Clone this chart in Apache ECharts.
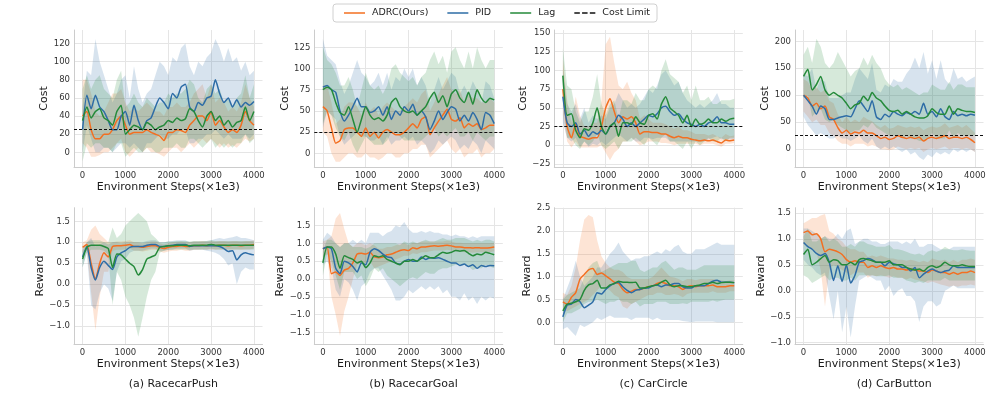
<!DOCTYPE html>
<html>
<head>
<meta charset="utf-8">
<script src="https://cdn.jsdelivr.net/npm/echarts@6/dist/echarts.min.js"></script>
<style>
  html, body { margin: 0; padding: 0; background: #fff; }
  #chart { width: 996px; height: 399px; }
</style>
</head>
<body>
<div id="chart"></div>
<script>
// x positions (environment steps) shared by every curve
const steps = [0,100,200,300,400,500,600,700,800,900,1000,1100,1200,1300,1400,1500,1600,1700,1800,1900,2000,
  2100,2200,2300,2400,2500,2600,2700,2800,2900,3000,3100,3200,3300,3400,3500,3600,3700,3800,3900,4000];
const xTicks = [0, 1000, 2000, 3000, 4000];
const costLimit = 25;
const methods = ['ADRC(Ours)', 'PID', 'Lag'];
const envNames = ['(a) RacecarPush', '(b) RacecarGoal', '(c) CarCircle', '(d) CarButton'];
const costTicks = [[0,20,40,60,80,100,120], [0,25,50,75,100,125], [-25,0,25,50,75,100,125,150], [0,50,100,150,200]];
const rewardTicks = [[-1,-0.5,0,0.5,1,1.5], [-1.5,-1,-0.5,0,0.5,1,1.5], [0,0.5,1,1.5,2,2.5], [-1,-0.5,0,0.5,1,1.5]];

// (a) RacecarPush - cost
const costA_adrc   = [40,45,25,15,15,20,20,25,35,40,30,20,22,22,22,25,22,20,18,13,22,22,25,24,22,30,35,40,40,35,45,30,35,28,22,25,22,30,45,35,30];
const costA_adrcLo = [10,5,-5,-5,-3,0,0,5,10,15,0,-5,0,5,0,5,0,0,-2,-5,0,5,5,0,5,10,5,10,15,10,15,10,5,10,5,8,5,10,15,12,15];
const costA_adrcHi = [80,80,65,45,40,45,55,65,65,70,55,45,50,45,50,55,50,45,45,40,50,50,55,50,50,55,65,70,75,60,75,55,60,55,45,50,45,55,75,60,50];
const costA_pid    = [25,63,48,63,50,45,35,25,25,40,45,30,52,35,25,35,38,50,60,55,48,65,60,72,75,50,45,55,52,60,62,80,65,55,60,50,58,50,55,52,56];
const costA_pidLo  = [0,30,15,0,0,5,5,0,5,10,10,5,10,5,0,10,10,15,20,15,15,20,20,25,25,10,10,15,15,20,20,25,20,15,20,15,15,15,20,15,20];
const costA_pidHi  = [50,90,85,125,100,85,70,55,65,80,85,60,95,70,55,65,70,85,100,95,85,105,100,115,120,95,85,100,95,105,110,125,115,100,115,100,105,90,100,85,90];
const costA_lag    = [35,50,38,45,48,38,35,30,45,52,20,25,30,28,25,33,30,25,28,30,35,33,38,35,37,48,45,35,28,40,45,35,40,30,35,28,33,35,50,35,45];
const costA_lagLo  = [-10,10,5,10,10,5,5,0,10,10,-5,0,5,0,0,5,5,0,0,5,5,5,10,5,5,15,15,10,5,10,15,5,10,5,10,5,10,10,20,10,15];
const costA_lagHi  = [70,85,70,80,85,70,65,60,80,90,50,55,65,55,50,60,55,50,55,55,65,60,65,65,70,80,75,60,55,70,75,65,70,55,60,50,60,65,85,60,75];

// (a) RacecarPush - reward
const rewA_adrc   = [0.88,0.95,0.5,0.12,0.5,0.75,0.65,0.9,0.92,0.92,0.93,0.95,0.9,0.9,0.88,0.9,0.92,0.92,0.88,0.85,0.88,0.9,0.9,0.92,0.9,0.9,0.92,0.92,0.93,0.92,0.93,0.92,0.93,0.93,0.92,0.93,0.93,0.92,0.93,0.93,0.95];
const rewA_adrcLo = [0.75,0.8,-0.2,-1.1,-0.3,0.3,0.3,0.8,0.82,0.82,0.83,0.85,0.8,0.8,0.78,0.8,0.82,0.82,0.78,0.75,0.78,0.8,0.8,0.82,0.8,0.8,0.82,0.82,0.83,0.82,0.83,0.82,0.83,0.83,0.82,0.83,0.83,0.82,0.83,0.83,0.85];
const rewA_adrcHi = [1.0,1.05,1.3,1.4,1.2,1.1,1.0,1.0,1.02,1.02,1.03,1.05,1.0,1.0,0.98,1.0,1.02,1.02,0.98,0.95,0.98,1.0,1.0,1.02,1.0,1.0,1.02,1.02,1.03,1.02,1.03,1.02,1.03,1.03,1.02,1.03,1.03,1.02,1.03,1.03,1.05];
const rewA_pid    = [0.65,0.9,0.4,0.1,0.4,0.55,0.45,0.35,0.65,0.75,0.8,0.88,0.9,0.9,0.9,0.93,0.95,0.95,0.9,0.9,0.92,0.93,0.95,0.95,0.95,0.9,0.92,0.92,0.92,0.92,0.92,0.92,0.9,0.85,0.78,0.8,0.58,0.7,0.75,0.72,0.7];
const rewA_pidLo  = [0.4,0.75,-0.5,-0.6,-0.2,0.0,-0.1,-0.4,0.3,0.55,0.6,0.75,0.8,0.8,0.8,0.83,0.85,0.85,0.8,0.8,0.82,0.83,0.85,0.85,0.85,0.8,0.82,0.82,0.82,0.8,0.78,0.75,0.7,0.6,0.45,0.5,0.0,0.3,0.4,0.35,0.35];
const rewA_pidHi  = [0.85,1.0,1.1,0.9,0.95,1.0,0.95,1.0,1.0,0.98,1.0,1.0,1.0,1.0,1.0,1.03,1.05,1.05,1.0,1.0,1.02,1.03,1.05,1.05,1.05,1.0,1.02,1.02,1.02,1.03,1.05,1.08,1.1,1.08,1.1,1.12,1.15,1.1,1.1,1.08,1.05];
const rewA_lag    = [0.6,0.88,0.93,0.93,0.93,0.9,0.85,0.4,0.72,0.7,0.6,0.5,0.42,0.22,0.35,0.6,0.65,0.7,0.88,0.9,0.92,0.92,0.93,0.93,0.93,0.92,0.93,0.93,0.93,0.93,0.95,0.93,0.93,0.93,0.93,0.93,0.93,0.93,0.93,0.93,0.93];
const rewA_lagLo  = [0.4,0.75,0.82,0.82,0.82,0.8,0.7,-0.5,0.3,0.1,-0.3,-0.5,-0.8,-1.25,-0.8,-0.3,0.1,0.3,0.75,0.8,0.82,0.82,0.83,0.83,0.83,0.82,0.83,0.83,0.83,0.83,0.85,0.83,0.83,0.83,0.83,0.83,0.83,0.83,0.83,0.83,0.83];
const rewA_lagHi  = [0.8,1.0,1.05,1.05,1.05,1.0,1.0,1.35,1.1,1.2,1.4,1.5,1.6,1.7,1.6,1.5,1.2,1.1,1.0,1.0,1.02,1.02,1.03,1.03,1.03,1.02,1.03,1.03,1.03,1.03,1.05,1.03,1.03,1.03,1.03,1.03,1.03,1.03,1.03,1.03,1.03];

// (b) RacecarGoal - cost
const costB_adrc   = [55,50,30,12,15,28,30,30,25,20,30,20,25,18,25,28,25,22,22,25,30,35,30,40,43,22,30,38,45,52,40,38,42,30,35,32,35,28,30,33,33];
const costB_adrcLo = [25,20,0,-10,-10,-5,0,0,-5,-5,0,-5,-5,-8,-5,0,0,-5,-5,0,0,5,5,10,10,-5,0,5,10,15,5,0,5,-5,0,0,5,-5,0,0,5];
const costB_adrcHi = [80,80,60,35,40,55,60,60,55,45,60,50,55,45,55,60,55,50,50,55,60,65,60,70,75,50,60,70,80,90,75,70,75,60,70,65,65,60,60,65,60];
const costB_pid    = [78,80,75,72,50,38,45,55,65,55,55,48,50,55,45,55,40,50,45,55,50,58,45,50,43,28,38,50,40,48,55,52,38,45,38,48,40,28,48,45,35];
const costB_pidLo  = [30,50,45,40,20,10,15,20,25,20,20,15,15,20,10,20,10,15,15,20,15,20,10,15,10,0,5,15,10,15,20,15,5,10,5,15,10,0,15,10,5];
const costB_pidHi  = [135,115,110,105,85,70,80,95,110,95,90,80,85,95,80,95,75,90,85,100,90,100,80,90,80,60,75,90,75,85,95,90,70,80,70,85,75,60,85,80,65];
const costB_lag    = [75,78,75,60,48,45,55,40,25,40,55,45,40,42,38,45,60,65,55,50,48,50,45,50,55,65,72,60,68,55,70,75,65,60,72,58,75,65,60,65,63];
const costB_lagLo  = [35,50,45,30,20,15,25,10,0,10,20,15,10,10,10,15,25,25,20,15,15,15,15,15,20,25,30,20,25,20,25,30,20,20,25,15,25,20,15,20,20];
const costB_lagHi  = [125,110,105,95,80,80,90,75,55,75,95,80,75,80,70,80,100,105,95,90,85,90,80,90,95,110,120,105,115,95,120,125,110,100,120,100,125,110,100,110,110];

// (b) RacecarGoal - reward
const rewB_adrc   = [0.85,0.9,0.15,0.2,0.1,0.25,0.3,0.45,0.7,0.72,0.7,0.75,0.62,0.6,0.62,0.68,0.7,0.75,0.8,0.82,0.8,0.88,0.85,0.9,0.9,0.92,0.93,0.92,0.93,0.95,0.93,0.9,0.9,0.88,0.88,0.87,0.88,0.87,0.87,0.88,0.9];
const rewB_adrcLo = [0.6,0.7,-0.5,-1.0,-1.6,-0.9,-0.5,0.0,0.4,0.45,0.45,0.5,0.3,0.35,0.4,0.45,0.5,0.55,0.6,0.65,0.65,0.72,0.7,0.75,0.75,0.78,0.8,0.8,0.8,0.82,0.8,0.78,0.78,0.75,0.75,0.74,0.75,0.75,0.74,0.75,0.78];
const rewB_adrcHi = [1.05,1.1,1.2,1.7,1.85,1.4,1.0,0.9,1.0,1.0,0.95,1.0,0.95,0.85,0.85,0.9,0.9,0.95,0.98,1.0,0.95,1.02,1.0,1.05,1.05,1.05,1.05,1.05,1.05,1.08,1.05,1.02,1.02,1.0,1.0,1.0,1.0,1.0,1.0,1.0,1.02];
const rewB_pid    = [0.85,0.9,0.85,0.3,0.15,0.5,0.45,0.35,0.2,0.45,0.4,0.75,0.85,0.8,0.7,0.62,0.6,0.45,0.42,0.5,0.55,0.5,0.5,0.62,0.55,0.6,0.58,0.6,0.55,0.5,0.45,0.45,0.38,0.42,0.35,0.4,0.3,0.38,0.35,0.38,0.37];
const rewB_pidLo  = [0.4,0.5,0.3,-0.3,-0.5,0.0,-0.1,-0.3,-0.6,-0.2,-0.1,0.2,0.3,0.3,0.1,-0.1,-0.3,-0.6,-0.6,-0.5,-0.3,-0.4,-0.3,-0.2,-0.3,-0.2,-0.3,-0.2,-0.4,-0.3,-0.5,-0.5,-0.6,-0.4,-0.6,-0.5,-0.7,-0.5,-0.6,-0.5,-0.55];
const rewB_pidHi  = [1.1,1.3,1.2,1.0,0.9,1.0,1.0,1.1,1.0,1.1,1.0,1.3,1.3,1.3,1.2,1.3,1.35,1.5,1.45,1.6,1.4,1.3,1.3,1.35,1.3,1.35,1.3,1.3,1.25,1.25,1.2,1.25,1.2,1.2,1.15,1.2,1.15,1.2,1.2,1.2,1.2];
const rewB_lag    = [0.45,0.9,0.9,0.7,0.3,0.65,0.6,0.55,0.45,0.5,0.32,0.45,0.65,0.62,0.65,0.55,0.5,0.45,0.4,0.5,0.5,0.55,0.5,0.58,0.65,0.6,0.6,0.68,0.75,0.72,0.75,0.8,0.78,0.8,0.72,0.65,0.7,0.68,0.75,0.72,0.68];
const rewB_lagLo  = [0.1,0.7,0.5,0.1,-0.3,0.2,0.2,0.2,0.0,0.1,-0.2,0.0,0.3,0.2,0.3,0.1,0.0,-0.1,-0.2,-0.1,0.0,0.05,0.0,0.1,0.2,0.15,0.15,0.25,0.3,0.3,0.35,0.4,0.4,0.4,0.35,0.25,0.3,0.3,0.4,0.35,0.3];
const rewB_lagHi  = [0.8,1.1,1.1,1.0,0.9,1.0,1.0,0.9,0.9,0.9,0.85,0.9,1.0,1.0,1.0,1.0,1.0,1.0,0.95,1.05,1.0,1.05,1.0,1.05,1.1,1.05,1.05,1.1,1.15,1.1,1.1,1.15,1.15,1.15,1.1,1.05,1.1,1.05,1.1,1.1,1.05];

// (c) CarCircle - cost
const costC_adrc   = [75,25,10,28,12,10,8,10,10,25,50,62,45,30,38,35,38,30,15,18,18,17,17,15,15,12,10,12,10,10,8,7,6,7,6,7,5,3,7,6,7];
const costC_adrcLo = [40,5,-3,5,-3,-3,-3,-3,-3,0,-10,-20,-10,-5,5,5,10,5,0,2,5,5,5,3,3,2,0,2,2,2,2,2,0,2,2,2,0,-2,2,2,3];
const costC_adrcHi = [115,60,30,65,40,25,25,30,30,60,135,145,110,80,75,85,70,60,35,40,35,30,30,30,28,25,22,25,20,20,18,15,15,15,13,15,12,10,15,12,13];
const costC_pid    = [65,30,25,30,15,20,12,18,15,20,15,25,30,40,35,25,30,25,30,35,40,38,42,50,52,45,40,42,35,30,28,25,28,25,30,32,38,30,30,28,28];
const costC_pidLo  = [30,10,5,10,-2,5,-2,2,0,5,0,5,10,15,10,5,10,5,5,10,10,8,10,10,10,5,5,5,5,5,5,5,5,5,8,10,12,8,8,8,8];
const costC_pidHi  = [100,55,45,55,35,50,30,40,35,40,35,50,55,70,60,50,55,50,55,65,75,70,80,95,100,90,80,85,70,60,55,50,55,50,55,60,70,55,55,50,50];
const costC_lag    = [93,40,42,20,10,22,20,30,50,25,15,25,30,12,30,30,28,38,30,28,40,42,35,55,65,50,45,40,30,40,25,35,28,30,35,30,30,35,32,35,36];
const costC_lagLo  = [60,10,10,0,-5,5,0,5,15,0,-5,0,5,-5,5,5,5,10,5,0,10,5,0,10,15,5,5,0,-5,5,-5,5,0,5,10,5,5,10,5,10,10];
const costC_lagHi  = [130,80,75,45,30,45,45,65,95,55,40,55,60,35,60,60,55,70,60,60,75,80,75,100,115,95,90,85,70,80,60,80,60,60,65,55,55,60,60,60,62];

// (c) CarCircle - reward
const rewC_adrc   = [0.45,0.4,0.55,0.65,0.95,1.05,1.15,1.18,1.05,1.08,1.02,0.95,0.88,0.85,0.72,0.65,0.68,0.72,0.72,0.75,0.78,0.8,0.85,0.88,0.85,0.8,0.8,0.78,0.72,0.78,0.8,0.78,0.8,0.8,0.8,0.82,0.78,0.78,0.78,0.8,0.8];
const rewC_adrcLo = [0.3,0.25,0.3,0.35,0.4,0.45,0.5,0.6,0.7,0.8,0.75,0.7,0.6,0.55,0.35,0.3,0.4,0.45,0.5,0.55,0.6,0.6,0.65,0.65,0.6,0.6,0.62,0.6,0.55,0.62,0.65,0.65,0.65,0.65,0.65,0.68,0.65,0.65,0.65,0.68,0.68];
const rewC_adrcHi = [0.65,0.6,0.8,1.2,1.8,2.25,2.35,2.3,1.8,1.45,1.3,1.2,1.15,1.15,1.1,1.0,0.95,0.95,0.95,0.95,0.95,1.0,1.1,1.2,1.1,1.0,0.98,0.95,0.9,0.95,0.95,0.92,0.95,0.95,0.95,0.95,0.92,0.92,0.9,0.92,0.92];
const rewC_pid    = [0.12,0.38,0.4,0.5,0.45,0.32,0.38,0.45,0.65,0.62,0.72,0.8,0.85,0.88,0.78,0.7,0.65,0.7,0.72,0.75,0.75,0.8,0.82,0.78,0.82,0.82,0.85,0.85,0.78,0.75,0.75,0.8,0.8,0.8,0.85,0.9,0.92,0.88,0.88,0.88,0.87];
const rewC_pidLo  = [-0.15,-0.1,-0.2,-0.3,-0.05,-0.1,-0.05,0.0,0.1,0.05,0.1,0.15,0.1,0.1,0.1,0.1,0.05,0.1,0.1,0.1,0.1,0.05,0.1,0.05,0.05,0.05,0.05,0.05,0.03,0.02,0.0,0.02,0.02,0.02,0.02,0.02,0.0,0.0,0.0,0.0,0.0];
const rewC_pidHi  = [0.5,0.75,1.0,1.35,1.0,0.8,0.9,1.0,1.2,1.2,1.35,1.5,1.6,1.75,1.55,1.45,1.35,1.4,1.4,1.45,1.45,1.5,1.55,1.5,1.6,1.55,1.65,1.7,1.55,1.5,1.5,1.6,1.6,1.6,1.65,1.7,1.75,1.7,1.7,1.7,1.7];
const rewC_lag    = [0.25,0.4,0.42,0.45,0.5,0.7,0.82,0.85,0.92,0.75,0.75,0.82,0.85,0.9,0.88,0.88,0.87,0.88,0.75,0.75,0.78,0.8,0.82,0.88,0.92,0.82,0.78,0.8,0.8,0.78,0.78,0.8,0.82,0.85,0.85,0.88,0.85,0.87,0.88,0.88,0.87];
const rewC_lagLo  = [0.0,0.2,0.2,0.25,0.3,0.4,0.45,0.45,0.5,0.45,0.4,0.45,0.45,0.5,0.45,0.45,0.4,0.45,0.35,0.4,0.4,0.4,0.45,0.45,0.45,0.4,0.4,0.4,0.42,0.4,0.45,0.45,0.45,0.45,0.45,0.48,0.45,0.48,0.5,0.5,0.5];
const rewC_lagHi  = [0.5,0.6,0.65,0.7,0.75,1.0,1.2,1.3,1.35,1.1,1.15,1.2,1.25,1.3,1.3,1.3,1.35,1.35,1.15,1.1,1.15,1.2,1.2,1.3,1.35,1.25,1.15,1.2,1.2,1.15,1.15,1.15,1.2,1.25,1.25,1.25,1.25,1.25,1.25,1.25,1.25];

// (d) CarButton - cost
const costD_adrc   = [100,95,80,85,75,80,60,55,40,30,35,28,32,30,35,30,30,25,20,22,18,20,25,22,20,22,20,22,15,20,22,20,22,25,20,22,22,20,22,18,12];
const costD_adrcLo = [70,60,50,55,45,45,30,25,15,10,10,5,10,10,10,5,8,5,0,0,-2,0,5,2,0,2,0,2,-5,0,2,0,2,5,0,2,2,0,2,0,-5];
const costD_adrcHi = [130,125,110,115,105,110,90,85,65,50,60,50,55,50,60,55,52,45,40,45,38,40,45,42,40,42,40,42,35,40,42,40,42,48,40,42,45,40,45,38,30];
const costD_pid    = [100,90,80,65,80,75,55,55,58,60,62,60,75,90,80,70,90,60,55,65,60,70,65,62,68,65,70,65,85,65,70,60,75,60,55,70,62,65,62,65,63];
const costD_pidLo  = [60,45,35,25,30,25,20,20,25,20,20,15,20,25,15,10,20,5,0,5,0,5,0,-5,0,-10,-5,-15,-20,-10,-15,-5,-10,-5,-10,0,-5,0,-5,0,-5];
const costD_pidHi  = [140,135,150,110,130,125,95,95,95,100,105,105,130,150,140,130,160,110,105,120,115,130,125,125,140,150,170,150,180,140,165,130,165,130,120,150,130,135,125,130,135];
const costD_lag    = [135,148,110,120,135,110,100,105,100,95,85,75,82,85,98,90,105,95,90,80,72,70,72,65,70,65,60,58,58,62,75,68,65,65,80,65,75,72,70,70,68];
const costD_lagLo  = [95,100,60,70,75,55,50,55,45,40,35,30,35,35,45,40,50,40,35,30,25,25,25,20,25,20,20,15,15,20,30,20,20,20,35,20,30,25,25,25,25];
const costD_lagHi  = [175,190,160,205,190,160,150,160,180,165,150,135,145,150,170,155,175,160,150,130,120,115,120,110,115,110,105,100,105,105,120,115,110,110,125,110,120,120,115,115,115];

// (d) CarButton - reward
const rewD_adrc   = [1.12,1.15,1.08,1.1,1.0,0.75,0.8,0.78,0.75,0.7,0.6,0.55,0.58,0.55,0.55,0.45,0.48,0.45,0.48,0.45,0.43,0.45,0.42,0.42,0.4,0.42,0.4,0.38,0.38,0.35,0.4,0.38,0.35,0.35,0.32,0.35,0.32,0.35,0.35,0.38,0.35];
const rewD_adrcLo = [0.9,0.85,0.8,0.75,0.4,-0.3,0.4,0.5,0.45,0.4,0.35,0.3,0.35,0.35,0.35,0.25,0.3,0.28,0.3,0.28,0.25,0.28,0.25,0.25,0.22,0.25,0.22,0.2,0.18,0.15,0.18,0.15,0.12,0.1,0.08,0.1,0.08,0.1,0.1,0.12,0.1];
const rewD_adrcHi = [1.3,1.35,1.4,1.4,1.45,1.48,1.15,1.1,1.0,0.95,0.85,0.8,0.8,0.75,0.75,0.65,0.68,0.65,0.68,0.65,0.62,0.62,0.6,0.6,0.58,0.6,0.58,0.55,0.58,0.55,0.62,0.6,0.58,0.6,0.55,0.6,0.55,0.6,0.6,0.62,0.6];
const rewD_pid    = [0.93,0.85,0.8,0.72,0.68,0.72,0.55,0.2,0.48,0.18,0.5,0.15,0.3,0.55,0.58,0.62,0.6,0.55,0.55,0.48,0.55,0.52,0.5,0.45,0.45,0.38,0.45,0.25,0.32,0.38,0.42,0.38,0.35,0.38,0.4,0.48,0.45,0.45,0.45,0.45,0.45];
const rewD_pidLo  = [0.6,0.5,0.45,0.35,0.3,0.35,-0.1,-0.55,0.0,-0.8,-0.3,-0.9,-0.3,0.2,0.25,0.3,0.25,0.2,0.2,0.0,0.1,-0.1,0.0,0.05,-0.1,-0.1,-0.2,-0.6,-0.3,-0.2,-0.2,-0.3,-0.25,0.0,0.05,0.1,0.05,0.05,0.05,0.05,0.05];
const rewD_pidHi  = [1.2,1.2,1.15,1.1,1.0,1.05,1.0,1.0,1.1,1.0,1.15,1.2,0.9,0.95,1.0,1.0,0.95,0.95,0.9,0.9,0.95,0.95,0.95,0.9,0.95,0.9,1.0,0.85,0.85,0.9,0.9,0.85,0.8,0.8,0.8,0.85,0.85,0.85,0.85,0.85,0.85];
const rewD_lag    = [0.7,0.8,0.5,0.55,0.62,0.68,0.55,0.6,0.58,0.5,0.5,0.55,0.5,0.6,0.62,0.6,0.58,0.55,0.55,0.55,0.58,0.5,0.5,0.5,0.45,0.42,0.4,0.42,0.38,0.45,0.48,0.45,0.48,0.55,0.5,0.48,0.48,0.5,0.48,0.47,0.47];
const rewD_lagLo  = [0.3,0.25,0.15,0.2,0.25,0.3,0.2,0.25,0.25,0.2,0.2,0.25,0.2,0.3,0.3,0.3,0.3,0.28,0.28,0.28,0.3,0.25,0.25,0.25,0.2,0.18,0.15,0.18,0.15,0.2,0.2,0.2,0.2,0.25,0.2,0.2,0.2,0.2,0.2,0.2,0.2];
const rewD_lagHi  = [1.05,1.2,0.95,0.95,1.0,1.05,0.95,1.0,0.95,0.85,0.85,0.9,0.85,0.95,0.95,0.9,0.88,0.85,0.85,0.85,0.88,0.8,0.8,0.78,0.75,0.72,0.7,0.72,0.68,0.75,0.78,0.75,0.78,0.85,0.8,0.78,0.78,0.8,0.78,0.77,0.77];

// ---- layout / style ----
const FONT = 'DejaVu Sans';
const lineColors = ['#f36f21', '#2d6ca6', '#248a3a'];
const bandColors = ['rgba(243,111,33,0.19)', 'rgba(45,108,166,0.19)', 'rgba(36,138,58,0.19)'];
const colLeft = [74, 314.3, 554.3, 795];
const plotW = 188.5;
const rowTop = [30, 207.7];
const rowH = [137, 136.6];
const solidIcon = 'path://M0,0H21V1.5H0Z';
const dashIcon = 'path://M0,0H5.5V1.5H0Z M7.75,0H13.25V1.5H7.75Z M15.5,0H21V1.5H15.5Z';

const panels = [
  { row: 0, col: 0, name: 'Cost', gap: 22, dec: 0, min: -16.2, max: 135, ticks: costTicks[0], limit: true,
    curves: [[costA_adrc, costA_adrcLo, costA_adrcHi], [costA_pid, costA_pidLo, costA_pidHi], [costA_lag, costA_lagLo, costA_lagHi]] },
  { row: 0, col: 1, name: 'Cost', gap: 23, dec: 0, min: -16.1, max: 145.4, ticks: costTicks[1], limit: true,
    curves: [[costB_adrc, costB_adrcLo, costB_adrcHi], [costB_pid, costB_pidLo, costB_pidHi], [costB_lag, costB_lagLo, costB_lagHi]] },
  { row: 0, col: 2, name: 'Cost', gap: 25, dec: 0, min: -29, max: 154, ticks: costTicks[2], limit: true,
    curves: [[costC_adrc, costC_adrcLo, costC_adrcHi], [costC_pid, costC_pidLo, costC_pidHi], [costC_lag, costC_lagLo, costC_lagHi]] },
  { row: 0, col: 3, name: 'Cost', gap: 23, dec: 0, min: -33, max: 221, ticks: costTicks[3], limit: true,
    curves: [[costD_adrc, costD_adrcLo, costD_adrcHi], [costD_pid, costD_pidLo, costD_pidHi], [costD_lag, costD_lagLo, costD_lagHi]] },
  { row: 1, col: 0, name: 'Reward', gap: 28, dec: 1, min: -1.43, max: 1.824, ticks: rewardTicks[0],
    curves: [[rewA_adrc, rewA_adrcLo, rewA_adrcHi], [rewA_pid, rewA_pidLo, rewA_pidHi], [rewA_lag, rewA_lagLo, rewA_lagHi]] },
  { row: 1, col: 1, name: 'Reward', gap: 28, dec: 1, min: -1.83, max: 2.0, ticks: rewardTicks[1],
    curves: [[rewB_adrc, rewB_adrcLo, rewB_adrcHi], [rewB_pid, rewB_pidLo, rewB_pidHi], [rewB_lag, rewB_lagLo, rewB_lagHi]] },
  { row: 1, col: 2, name: 'Reward', gap: 20, dec: 1, min: -0.48, max: 2.51, ticks: rewardTicks[2],
    curves: [[rewC_adrc, rewC_adrcLo, rewC_adrcHi], [rewC_pid, rewC_pidLo, rewC_pidHi], [rewC_lag, rewC_lagLo, rewC_lagHi]] },
  { row: 1, col: 3, name: 'Reward', gap: 28, dec: 1, min: -1.03, max: 1.6, ticks: rewardTicks[3],
    curves: [[rewD_adrc, rewD_adrcLo, rewD_adrcHi], [rewD_pid, rewD_pidLo, rewD_pidHi], [rewD_lag, rewD_lagLo, rewD_lagHi]] },
];

function fmt(v, dec) {
  const s = Math.abs(v).toFixed(dec);
  return (v < 0 ? '\u2212' : '') + s;
}

// shaded min/max band drawn as one polygon through the axis scale
function bandSeries(k, lo, hi, fill) {
  return {
    type: 'custom', xAxisIndex: k, yAxisIndex: k, silent: true, z: 1,
    data: steps.map((s, i) => [s, lo[i], hi[i]]),
    encode: { x: 0, y: [1, 2] },
    renderItem(params, api) {
      if (params.dataIndex !== 0) return null;
      const pts = steps.map((s, i) => api.coord([s, hi[i]]));
      for (let i = steps.length - 1; i >= 0; i--) pts.push(api.coord([steps[i], lo[i]]));
      return { type: 'polygon', shape: { points: pts }, style: { fill: fill } };
    }
  };
}

const grid = [], xAxis = [], yAxis = [], series = [], title = [];

panels.forEach((p, k) => {
  grid.push({ left: colLeft[p.col], top: rowTop[p.row], width: plotW, height: rowH[p.row] });
  xAxis.push({
    type: 'value', gridIndex: k, min: -200, max: 4200,
    name: 'Environment Steps(×1e3)', nameLocation: 'middle', nameGap: 14.5,
    nameTextStyle: { fontFamily: FONT, fontSize: 11, color: '#1a1a1a' },
    axisLine: { show: true, onZero: false, lineStyle: { color: '#cccccc', width: 1 } },
    axisTick: { show: false, customValues: xTicks },
    axisLabel: { customValues: xTicks, fontFamily: FONT, fontSize: 8.5, color: '#333', margin: 4,
      formatter: (v) => String(v) },
    splitLine: { show: true, lineStyle: { color: '#e5e5e5', width: 1 } }
  });
  yAxis.push({
    type: 'value', gridIndex: k, min: p.min, max: p.max,
    name: p.name, nameLocation: 'middle', nameGap: p.gap, nameRotate: 90,
    nameTextStyle: { fontFamily: FONT, fontSize: 11, color: '#1a1a1a' },
    axisLine: { show: true, onZero: false, lineStyle: { color: '#cccccc', width: 1 } },
    axisTick: { show: false, customValues: p.ticks },
    axisLabel: { customValues: p.ticks, fontFamily: FONT, fontSize: 8.5, color: '#333', margin: 4,
      formatter: (v) => fmt(v, p.dec) },
    splitLine: { show: true, lineStyle: { color: '#e5e5e5', width: 1 } }
  });
  p.curves.forEach((c, j) => series.push(bandSeries(k, c[1], c[2], bandColors[j])));
  p.curves.forEach((c, j) => series.push({
    type: 'line', name: methods[j], xAxisIndex: k, yAxisIndex: k,
    data: steps.map((s, i) => [s, c[0][i]]),
    symbol: 'none', smooth: 0.2, silent: true, z: 3,
    lineStyle: { color: lineColors[j], width: 1.5 },
    itemStyle: { color: lineColors[j] }
  }));
  if (p.limit) {
    series.push({
      type: 'line', name: 'Cost Limit', xAxisIndex: k, yAxisIndex: k, data: [],
      symbol: 'none', silent: true, z: 5,
      lineStyle: { color: '#111', width: 1.3 },
      itemStyle: { color: '#111' },
      markLine: {
        silent: true, symbol: 'none', label: { show: false },
        lineStyle: { color: '#111', width: 1, type: [3, 2] },
        data: [{ yAxis: costLimit }]
      }
    });
  }
  if (p.row === 1) {
    title.push({
      text: envNames[p.col], left: colLeft[p.col] + plotW / 2, top: 374, textAlign: 'center',
      textStyle: { fontFamily: FONT, fontSize: 11, fontWeight: 'normal', color: '#1a1a1a' }
    });
  }
});

const chart = echarts.init(document.getElementById('chart'), null, { renderer: 'canvas' });
chart.setOption({
  animation: false,
  backgroundColor: '#fff',
  title,
  legend: {
    data: [
      { name: 'ADRC(Ours)', icon: solidIcon },
      { name: 'PID', icon: solidIcon },
      { name: 'Lag', icon: solidIcon },
      { name: 'Cost Limit', icon: dashIcon }
    ],
    left: 333, top: 4,
    itemWidth: 21, itemHeight: 1.5, itemGap: 19,
    padding: [4, 7, 4, 11],
    borderColor: '#d0d0d0', borderWidth: 1, borderRadius: 3,
    textStyle: { fontFamily: FONT, fontSize: 9.5, color: '#262626', padding: [0, 0, 0, 2] }
  },
  grid, xAxis, yAxis, series
});
</script>
</body>
</html>
